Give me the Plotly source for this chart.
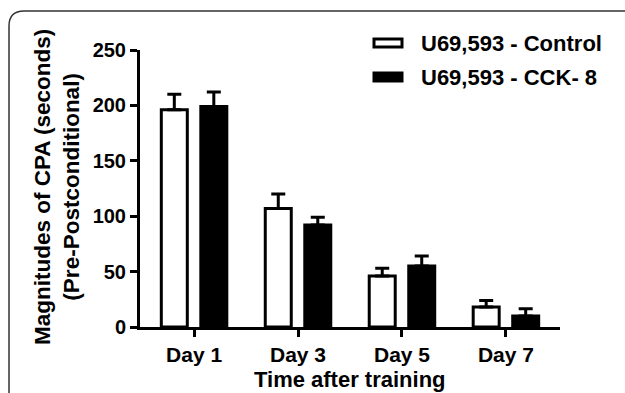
import plotly.graph_objects as go

categories = ["Day 1", "Day 3", "Day 5", "Day 7"]
series_names = ["U69,593 - Control", "U69,593 - CCK- 8"]
control_mean = [196, 107, 46, 18]
control_sem = [14, 13, 7, 6]
cck_mean = [199, 92, 55, 10]
cck_sem = [13, 7, 9, 6.5]
y_ticks = [0, 50, 100, 150, 200, 250]

W, H = 625, 393
L, R, T, B = 140, 65, 50, 66
PW, PH = W - L - R, H - T - B

def xp(px):
    return (px - L) / PW

def yp(py):
    return (H - B - py) / PH

FONT = "Liberation Sans, Arial, sans-serif"

fig = go.Figure()
fig.add_trace(go.Bar(
    x=categories, y=control_mean, name=series_names[0],
    width=0.25, offset=-0.315,
    marker=dict(color="white", line=dict(color="black", width=3)),
    error_y=dict(type="data", array=control_sem, arrayminus=[0]*4, symmetric=False,
                 color="black", thickness=3, width=7),
    showlegend=False,
))
fig.add_trace(go.Bar(
    x=categories, y=cck_mean, name=series_names[1],
    width=0.25, offset=0.065,
    marker=dict(color="black", line=dict(color="black", width=3)),
    error_y=dict(type="data", array=cck_sem, arrayminus=[0]*4, symmetric=False,
                 color="black", thickness=3, width=7),
    showlegend=False,
))

shapes = []
shapes.append(dict(type="rect", xref="paper", yref="paper",
                   x0=xp(374), x1=xp(402), y0=yp(47), y1=yp(39),
                   fillcolor="white", line=dict(color="black", width=3)))
shapes.append(dict(type="rect", xref="paper", yref="paper",
                   x0=xp(374), x1=xp(402), y0=yp(81), y1=yp(73),
                   fillcolor="black", line=dict(color="black", width=3)))
r = 15
path = (f"M {xp(9)},{yp(400)} L {xp(9)},{yp(11 + r)} "
        f"Q {xp(9)},{yp(11)} {xp(9 + r)},{yp(11)} L {xp(640)},{yp(11)}")
shapes.append(dict(type="path", xref="paper", yref="paper", path=path,
                   line=dict(color="#333333", width=1.5)))

annotations = [
    dict(text="<b>" + series_names[0] + "</b>", xref="paper", yref="paper",
         x=xp(419), y=yp(44), xanchor="left", yanchor="middle", showarrow=False,
         font=dict(family=FONT, size=22, color="black")),
    dict(text="<b>" + series_names[1] + "</b>", xref="paper", yref="paper",
         x=xp(419), y=yp(77), xanchor="left", yanchor="middle", showarrow=False,
         font=dict(family=FONT, size=22, color="black")),
    dict(text="<b>Magnitudes of CPA (seconds)<br>(Pre-Postconditional)</b>",
         xref="paper", yref="paper", x=xp(57), y=yp(187), xanchor="center",
         yanchor="middle", textangle=-90, showarrow=False,
         font=dict(family=FONT, size=22.5, color="black")),
    dict(text="<b>Time after training</b>", xref="paper", yref="paper",
         x=xp(350), y=yp(379), xanchor="center", yanchor="middle", showarrow=False,
         font=dict(family=FONT, size=22, color="black")),
]

fig.update_layout(
    width=W, height=H,
    margin=dict(l=L, r=R, t=T, b=B, pad=0),
    paper_bgcolor="white", plot_bgcolor="white",
    barmode="overlay",
    shapes=shapes, annotations=annotations,
    font=dict(family=FONT, color="black"),
)
fig.update_xaxes(
    type="category", range=[-0.52, 3.52],
    showline=True, linecolor="black", linewidth=3,
    ticks="outside", ticklen=7, tickwidth=3, tickcolor="black",
    tickfont=dict(family=FONT, size=21, color="black", weight="bold"),
    showgrid=False, zeroline=False,
)
fig.update_yaxes(
    range=[0, 250], tickvals=y_ticks,
    showline=True, linecolor="black", linewidth=3,
    ticks="outside", ticklen=7, tickwidth=3, tickcolor="black",
    tickfont=dict(family=FONT, size=20, color="black", weight="bold"),
    showgrid=False, zeroline=False,
)

fig.write_html("out.html", config={"displayModeBar": False},
               post_script="document.body.style.margin='0';document.body.style.overflow='hidden';")
